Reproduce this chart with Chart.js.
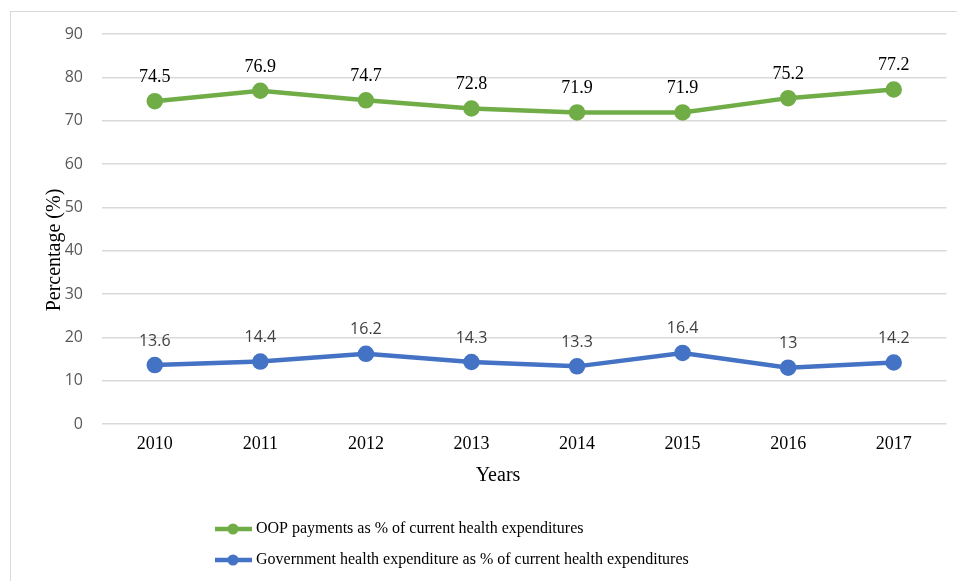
<!DOCTYPE html>
<html>
<head>
<meta charset="utf-8">
<script src="https://cdn.jsdelivr.net/npm/chart.js@4/dist/chart.umd.min.js"></script>
<style>
  html, body { margin: 0; padding: 0; background: #fff; }
  #wrap { position: relative; width: 957px; height: 581px; overflow: hidden; }
  #frame { position: absolute; left: 10px; top: 11px; width: 1000px; height: 700px; border: 1.5px solid #d9d9d9; box-sizing: border-box; }
  #chartCanvas { position: absolute; left: 0; top: 0; }
</style>
</head>
<body>
<div id="wrap">
  <div id="frame"></div>
  <canvas id="chartCanvas" width="957" height="581"></canvas>
</div>
<script>
var years = ['2010', '2011', '2012', '2013', '2014', '2015', '2016', '2017'];
var oopShare = [74.5, 76.9, 74.7, 72.8, 71.9, 71.9, 75.2, 77.2];
var govShare = [13.6, 14.4, 16.2, 14.3, 13.3, 16.4, 13, 14.2];
var yTicks = [0, 10, 20, 30, 40, 50, 60, 70, 80, 90];
var seriesNames = [
  'OOP payments as % of current health expenditures',
  'Government health expenditure as % of current health expenditures'
];
var xTitle = 'Years';
var yTitle = 'Percentage (%)';

var green = '#70ad47';
var blue = '#4472c4';
var serif = '"Liberation Serif", "Times New Roman", serif';
var sans = '"Open Sans", "Liberation Sans", sans-serif';

// value labels above each point
var pointLabels = {
  id: 'pointLabels',
  afterDatasetsDraw: function (chart) {
    var ctx = chart.ctx;
    ctx.save();
    ctx.textAlign = 'center';
    ctx.textBaseline = 'middle';
    chart.data.datasets.forEach(function (ds, i) {
      var meta = chart.getDatasetMeta(i);
      ctx.font = ds.labelFont;
      ctx.fillStyle = ds.labelColor;
      meta.data.forEach(function (pt, j) {
        ctx.fillText(String(ds.data[j]), pt.x, pt.y - 24);
      });
    });
    ctx.restore();
  }
};

// axis titles, placed a bit off-centre like the original
var axisTitles = {
  id: 'axisTitles',
  afterDraw: function (chart) {
    var ctx = chart.ctx;
    ctx.save();
    ctx.font = '20px ' + serif;
    ctx.fillStyle = '#000';
    ctx.textAlign = 'center';
    ctx.textBaseline = 'middle';
    ctx.fillText(xTitle, 498, 476);
    ctx.translate(55, 250);
    ctx.rotate(-Math.PI / 2);
    ctx.fillText(yTitle, 0, 0);
    ctx.restore();
  }
};

// legend drawn below the axis, line + dot + text per row
var bottomLegend = {
  id: 'bottomLegend',
  afterDraw: function (chart) {
    var ctx = chart.ctx;
    ctx.save();
    ctx.font = '16px ' + serif;
    ctx.textBaseline = 'middle';
    chart.data.datasets.forEach(function (ds, i) {
      var y = 529 + i * 31;
      ctx.strokeStyle = ds.borderColor;
      ctx.lineWidth = 4.5;
      ctx.beginPath();
      ctx.moveTo(215, y);
      ctx.lineTo(252, y);
      ctx.stroke();
      ctx.fillStyle = ds.borderColor;
      ctx.beginPath();
      ctx.arc(233, y, 5.5, 0, Math.PI * 2);
      ctx.fill();
      ctx.fillStyle = '#000';
      ctx.fillText(ds.label, 256, y);
    });
    ctx.restore();
  }
};

new Chart(document.getElementById('chartCanvas'), {
  type: 'line',
  data: {
    labels: years,
    datasets: [
      {
        label: seriesNames[0],
        data: oopShare,
        borderColor: green,
        backgroundColor: green,
        borderWidth: 4.5,
        pointRadius: 6,
        pointHoverRadius: 6,
        labelFont: '18px ' + serif,
        labelColor: '#000'
      },
      {
        label: seriesNames[1],
        data: govShare,
        borderColor: blue,
        backgroundColor: blue,
        borderWidth: 4.5,
        pointRadius: 6,
        pointHoverRadius: 6,
        labelFont: '16px ' + sans,
        labelColor: '#404040'
      }
    ]
  },
  options: {
    responsive: false,
    animation: false,
    devicePixelRatio: 1,
    layout: { padding: { top: 34, right: 10, bottom: 91, left: 0 } },
    plugins: {
      legend: { display: false },
      tooltip: { enabled: false }
    },
    scales: {
      x: {
        offset: true,
        grid: { display: false, drawTicks: false },
        border: { display: false },
        ticks: { color: '#000', font: { family: serif, size: 18 }, padding: 9 },
        afterFit: function (scale) { scale.height = 66; }
      },
      y: {
        min: 0,
        max: 90,
        afterBuildTicks: function (scale) {
          scale.ticks = yTicks.map(function (v) { return { value: v }; });
        },
        grid: { color: '#d9d9d9', lineWidth: 1.5, drawTicks: false },
        border: { display: false },
        ticks: { color: '#595959', font: { family: sans, size: 16 }, padding: 19 },
        afterFit: function (scale) { scale.width = 102; }
      }
    }
  },
  plugins: [pointLabels, axisTitles, bottomLegend]
});
</script>
</body>
</html>
